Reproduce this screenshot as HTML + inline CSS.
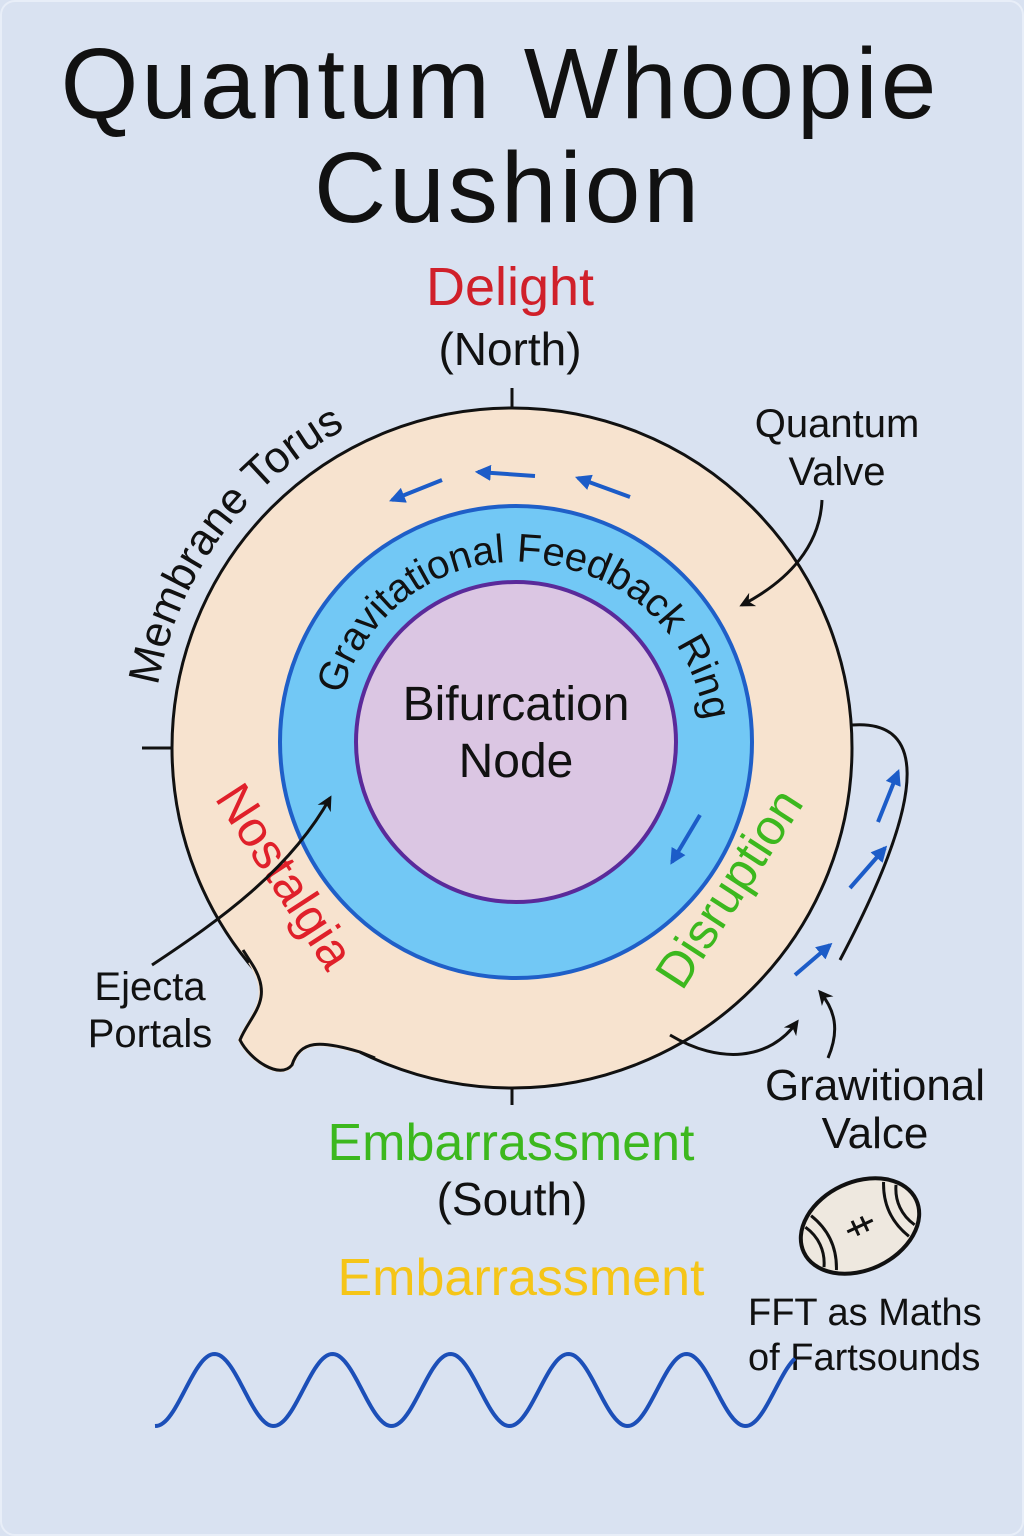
<!DOCTYPE html>
<html><head><meta charset="utf-8"><style>
html,body{margin:0;padding:0;background:#d9e2f1;}
svg{display:block;font-family:"Liberation Sans","DejaVu Sans",sans-serif;}
</style></head><body>
<svg width="1024" height="1536" viewBox="0 0 1024 1536">
<defs>
<marker id="ab" viewBox="0 0 10 10" refX="8" refY="5" markerWidth="4" markerHeight="4" orient="auto"><path d="M0,0 L10,5 L0,10 z" fill="#1c5cc8"/></marker>
<marker id="ak" viewBox="0 0 10 10" refX="8" refY="5" markerWidth="5" markerHeight="5" orient="auto"><path d="M0,0 L10,5 L0,10 L3,5 z" fill="#111"/></marker>
<path id="memPath" d="M 158,686 A 360,360 0 0 1 400,406"/>
<path id="gravPath" d="M 342,695 A 180,180 0 0 1 563,568 A 180,180 0 0 1 700,790"/>
</defs>
<rect x="1" y="1" width="1022" height="1534" rx="14" fill="#d9e2f1" stroke="#e8eef8" stroke-width="2"/>
<g font-size="100" text-anchor="middle" fill="#111" letter-spacing="3">
<text x="500" y="118">Quantum Whoopie</text>
<text x="508" y="222">Cushion</text>
</g>
<text x="510" y="305" font-size="54" fill="#d0202a" text-anchor="middle">Delight</text>
<text x="510" y="365" font-size="46" fill="#111" text-anchor="middle">(North)</text>
<g stroke="#111" stroke-width="3">
<line x1="512" y1="388" x2="512" y2="416"/><line x1="142" y1="748" x2="172" y2="748"/><line x1="512" y1="1075" x2="512" y2="1105"/>
</g>
<circle cx="512" cy="748" r="340" fill="#f7e3cf" stroke="#111" stroke-width="3"/>
<path d="M 250,962 C 275,1000 250,1015 240,1040 C 250,1060 280,1080 292,1065 C 300,1040 320,1040 360,1052 A 340,340 0 0 1 250,962 Z" fill="#f7e3cf" stroke="#f7e3cf" stroke-width="4"/>
<path d="M 243,950 L 252,964 C 275,1000 250,1015 240,1040 C 250,1060 280,1080 292,1065 C 300,1040 320,1040 360,1052 L 375,1058" fill="none" stroke="#111" stroke-width="3"/>
<circle cx="516" cy="742" r="236" fill="#72c8f5" stroke="#1f5fc8" stroke-width="4"/>
<circle cx="516" cy="742" r="160" fill="#dbc6e3" stroke="#5a2a9a" stroke-width="4"/>
<text font-size="44" fill="#111"><textPath href="#memPath" startOffset="0">Membrane Torus</textPath></text>
<text font-size="40" fill="#111"><textPath href="#gravPath" startOffset="0">Gravitational Feedback Ring</textPath></text>
<text x="516" y="720" font-size="48" fill="#111" text-anchor="middle">Bifurcation</text>
<text x="516" y="777" font-size="48" fill="#111" text-anchor="middle">Node</text>
<text transform="translate(214,798) rotate(57)" font-size="50" fill="#e0202a">Nostalgia</text>
<text transform="translate(682,992) rotate(-57)" font-size="50" fill="#3cb81e">Disruption</text>
<g stroke="#1c5cc8" stroke-width="4" fill="none" marker-end="url(#ab)">
<line x1="442" y1="480" x2="392" y2="500"/><line x1="535" y1="476" x2="478" y2="472"/><line x1="630" y1="497" x2="578" y2="478"/>
<line x1="700" y1="815" x2="672" y2="862"/>
<line x1="795" y1="975" x2="830" y2="945"/><line x1="850" y1="888" x2="885" y2="848"/><line x1="878" y1="822" x2="898" y2="772"/>
</g>
<g stroke="#111" stroke-width="3" fill="none">
<path d="M 852,725 C 920,720 935,780 840,960"/>
<path d="M 822,500 C 820,545 790,580 742,605" marker-end="url(#ak)"/>
<path d="M 152,965 C 220,920 290,870 330,798" marker-end="url(#ak)"/>
<path d="M 670,1035 C 720,1065 770,1060 797,1022" marker-end="url(#ak)"/>
<path d="M 828,1058 C 840,1030 835,1010 820,992" marker-end="url(#ak)"/>
</g>
<g font-size="40" fill="#111" text-anchor="middle">
<text x="837" y="437">Quantum</text><text x="837" y="485">Valve</text>
<text x="150" y="1000">Ejecta</text><text x="150" y="1047">Portals</text>
<text x="875" y="1100" font-size="44">Grawitional</text><text x="875" y="1148" font-size="44">Valce</text>
</g>
<text x="511" y="1160" font-size="52" fill="#3cb81e" text-anchor="middle">Embarrassment</text>
<text x="512" y="1215" font-size="46" fill="#111" text-anchor="middle">(South)</text>
<text x="521" y="1295" font-size="52" fill="#f5c518" text-anchor="middle">Embarrassment</text>
<g transform="translate(860,1226) rotate(-25)">
<ellipse cx="0" cy="0" rx="62" ry="44" fill="#eee8df" stroke="#111" stroke-width="4"/>
<path d="M -40,-30 C -30,-10 -30,10 -40,30 M -50,-22 C -42,-8 -42,8 -50,22 M 40,-30 C 30,-10 30,10 40,30 M 50,-22 C 42,-8 42,8 50,22" stroke="#111" stroke-width="3" fill="none"/>
<path d="M -14,0 L 14,0 M -5,-8 L -5,8 M 5,-8 L 5,8" stroke="#111" stroke-width="3"/>
</g>
<text x="748" y="1325" font-size="38" fill="#111">FFT as Maths</text>
<text x="748" y="1370" font-size="38" fill="#111">of Fartsounds</text>
<path id="wave" fill="none" stroke="#1c4fb8" stroke-width="4"/>
</svg>
<script>
var d='';for(var x=155;x<=795;x+=2){var y=1390-36*Math.sin((x-185)/118*2*Math.PI);d+=(x===155?'M':'L')+x+','+y.toFixed(1)+' ';}
document.getElementById('wave').setAttribute('d',d);
</script>
</body></html>
